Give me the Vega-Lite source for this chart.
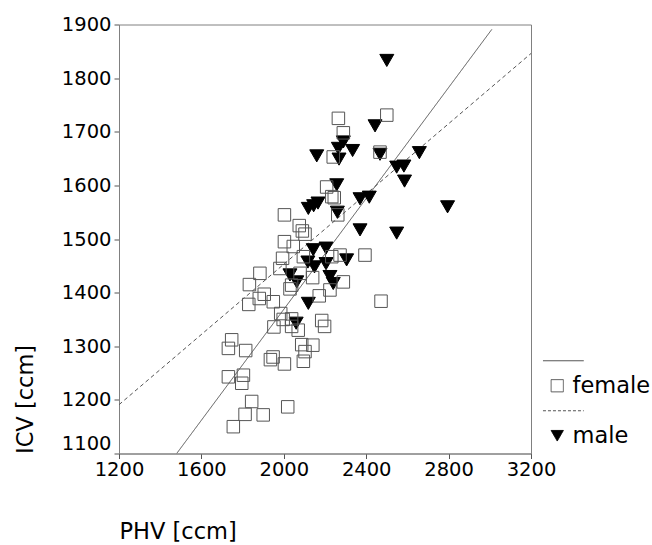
{
  "$schema": "https://vega.github.io/schema/vega-lite/v6.json",
  "width": 412,
  "height": 429,
  "autosize": {"type": "none"},
  "padding": {"left": 119, "top": 24.5, "right": 121, "bottom": 91.5},
  "background": "white",
  "config": {
    "font": "DejaVu Sans",
    "view": {"stroke": "#808080", "strokeWidth": 1},
    "axis": {
      "domainColor": "#808080",
      "tickColor": "#555555",
      "tickSize": 5,
      "labelFontSize": 19.5,
      "labelColor": "black",
      "labelFlush": false,
      "titleFontSize": 22.5,
      "titleFontWeight": "normal",
      "titleColor": "black",
      "grid": false,
      "format": "d"
    },
    "legend": {
      "title": null,
      "orient": "none",
      "legendX": 427,
      "legendY": 325,
      "padding": 0,
      "labelFontSize": 22.5,
      "labelColor": "black",
      "labelOffset": 4,
      "rowPadding": 2,
      "symbolStrokeWidth": 1,
      "symbolOpacity": 1,
      "symbolSize": 150
    }
  },
  "datasets": {
    "pts": [
      {"sex": "male", "phv": 2500, "icv": 1833},
      {"sex": "male", "phv": 2443, "icv": 1711},
      {"sex": "male", "phv": 2289, "icv": 1681},
      {"sex": "male", "phv": 2265, "icv": 1669},
      {"sex": "male", "phv": 2334, "icv": 1665},
      {"sex": "male", "phv": 2160, "icv": 1655},
      {"sex": "male", "phv": 2268, "icv": 1649},
      {"sex": "male", "phv": 2467, "icv": 1658},
      {"sex": "male", "phv": 2658, "icv": 1661},
      {"sex": "male", "phv": 2548, "icv": 1634},
      {"sex": "male", "phv": 2583, "icv": 1636},
      {"sex": "male", "phv": 2586, "icv": 1608},
      {"sex": "male", "phv": 2257, "icv": 1601},
      {"sex": "male", "phv": 2370, "icv": 1575},
      {"sex": "male", "phv": 2415, "icv": 1578},
      {"sex": "male", "phv": 2795, "icv": 1560},
      {"sex": "male", "phv": 2260, "icv": 1550},
      {"sex": "male", "phv": 2370, "icv": 1517},
      {"sex": "male", "phv": 2548, "icv": 1511},
      {"sex": "male", "phv": 2119, "icv": 1557},
      {"sex": "male", "phv": 2145, "icv": 1562},
      {"sex": "male", "phv": 2166, "icv": 1567},
      {"sex": "male", "phv": 2143, "icv": 1480},
      {"sex": "male", "phv": 2205, "icv": 1483},
      {"sex": "male", "phv": 2305, "icv": 1461},
      {"sex": "male", "phv": 2117, "icv": 1457},
      {"sex": "male", "phv": 2149, "icv": 1448},
      {"sex": "male", "phv": 2205, "icv": 1454},
      {"sex": "male", "phv": 2030, "icv": 1433},
      {"sex": "male", "phv": 2063, "icv": 1420},
      {"sex": "male", "phv": 2224, "icv": 1430},
      {"sex": "male", "phv": 2240, "icv": 1417},
      {"sex": "male", "phv": 2119, "icv": 1380},
      {"sex": "male", "phv": 2060, "icv": 1343},
      {"sex": "female", "phv": 2265, "icv": 1725},
      {"sex": "female", "phv": 2500, "icv": 1731},
      {"sex": "female", "phv": 2289, "icv": 1698},
      {"sex": "female", "phv": 2240, "icv": 1653},
      {"sex": "female", "phv": 2467, "icv": 1662},
      {"sex": "female", "phv": 2208, "icv": 1597},
      {"sex": "female", "phv": 2233, "icv": 1579},
      {"sex": "female", "phv": 2245, "icv": 1577},
      {"sex": "female", "phv": 2003, "icv": 1545},
      {"sex": "female", "phv": 2262, "icv": 1545},
      {"sex": "female", "phv": 2075, "icv": 1525},
      {"sex": "female", "phv": 2090, "icv": 1515},
      {"sex": "female", "phv": 2103, "icv": 1509},
      {"sex": "female", "phv": 2003, "icv": 1495},
      {"sex": "female", "phv": 2046, "icv": 1486},
      {"sex": "female", "phv": 1994, "icv": 1464},
      {"sex": "female", "phv": 2095, "icv": 1467},
      {"sex": "female", "phv": 2233, "icv": 1467},
      {"sex": "female", "phv": 2273, "icv": 1470},
      {"sex": "female", "phv": 2394, "icv": 1470},
      {"sex": "female", "phv": 1981, "icv": 1445},
      {"sex": "female", "phv": 1884, "icv": 1436},
      {"sex": "female", "phv": 2079, "icv": 1436},
      {"sex": "female", "phv": 2140, "icv": 1428},
      {"sex": "female", "phv": 1833, "icv": 1415},
      {"sex": "female", "phv": 2038, "icv": 1414},
      {"sex": "female", "phv": 2030, "icv": 1407},
      {"sex": "female", "phv": 2289, "icv": 1420},
      {"sex": "female", "phv": 2224, "icv": 1405},
      {"sex": "female", "phv": 2172, "icv": 1394},
      {"sex": "female", "phv": 1905, "icv": 1397},
      {"sex": "female", "phv": 1881, "icv": 1389},
      {"sex": "female", "phv": 1830, "icv": 1378},
      {"sex": "female", "phv": 1949, "icv": 1383},
      {"sex": "female", "phv": 2472, "icv": 1384},
      {"sex": "female", "phv": 1985, "icv": 1361},
      {"sex": "female", "phv": 1997, "icv": 1350},
      {"sex": "female", "phv": 2038, "icv": 1351},
      {"sex": "female", "phv": 1952, "icv": 1336},
      {"sex": "female", "phv": 2038, "icv": 1337},
      {"sex": "female", "phv": 2070, "icv": 1330},
      {"sex": "female", "phv": 2184, "icv": 1348},
      {"sex": "female", "phv": 2198, "icv": 1337},
      {"sex": "female", "phv": 2087, "icv": 1303},
      {"sex": "female", "phv": 2141, "icv": 1302},
      {"sex": "female", "phv": 2103, "icv": 1290},
      {"sex": "female", "phv": 2095, "icv": 1272},
      {"sex": "female", "phv": 1731, "icv": 1296},
      {"sex": "female", "phv": 1747, "icv": 1312},
      {"sex": "female", "phv": 1815, "icv": 1292},
      {"sex": "female", "phv": 1948, "icv": 1280},
      {"sex": "female", "phv": 1935, "icv": 1275},
      {"sex": "female", "phv": 2003, "icv": 1267},
      {"sex": "female", "phv": 1731, "icv": 1243},
      {"sex": "female", "phv": 1804, "icv": 1246},
      {"sex": "female", "phv": 1796, "icv": 1231},
      {"sex": "female", "phv": 1844, "icv": 1197},
      {"sex": "female", "phv": 1812, "icv": 1173},
      {"sex": "female", "phv": 1900, "icv": 1172},
      {"sex": "female", "phv": 1755, "icv": 1150},
      {"sex": "female", "phv": 2019, "icv": 1187}
    ],
    "fits": [
      {"fit": "solid", "phv": 1480, "icv": 1100},
      {"fit": "solid", "phv": 3010, "icv": 1891},
      {"fit": "dashed", "phv": 1200, "icv": 1191},
      {"fit": "dashed", "phv": 3200, "icv": 1846}
    ]
  },
  "layer": [
    {
      "data": {"name": "fits"},
      "mark": {"type": "line", "color": "#555555", "strokeWidth": 1, "clip": true},
      "encoding": {
        "x": {"field": "phv", "type": "quantitative"},
        "y": {"field": "icv", "type": "quantitative"},
        "detail": {"field": "fit"},
        "strokeDash": {
          "field": "fit",
          "type": "nominal",
          "scale": {"domain": ["solid", "dashed"], "range": [[1, 0], [4, 3]]},
          "legend": null
        }
      }
    },
    {
      "data": {"name": "pts"},
      "mark": {"type": "point", "filled": true, "opacity": 1, "strokeWidth": 1},
      "encoding": {
        "x": {
          "field": "phv",
          "type": "quantitative",
          "title": "PHV [ccm]",
          "scale": {"domain": [1200, 3200], "nice": false, "zero": false},
          "axis": {
            "values": [1200, 1600, 2000, 2400, 2800, 3200],
            "labelPadding": 2,
            "titlePadding": 41,
            "titleAnchor": "start"
          }
        },
        "y": {
          "field": "icv",
          "type": "quantitative",
          "title": "ICV [ccm]",
          "scale": {"domain": [1100, 1900], "nice": false, "zero": false},
          "axis": {
            "values": [1100, 1200, 1300, 1400, 1500, 1600, 1700, 1800, 1900],
            "labelPadding": 3,
            "titlePadding": 24,
            "titleAnchor": "start",
            "labelBaseline": {"condition": {"test": "datum.value == 1100", "value": "bottom"}, "value": "middle"}
          }
        },
        "color": {
          "field": "sex",
          "type": "nominal",
          "scale": {
            "domain": ["L1", "female", "L2", "male"],
            "range": ["transparent", "transparent", "transparent", "black"]
          },
          "legend": {
            "symbolDash": {"expr": "datum.value == 'L2' ? [3, 2] : [1, 0]"},
            "labelExpr": "datum.label == 'female' || datum.label == 'male' ? datum.label : ''"
          }
        },
        "stroke": {
          "field": "sex",
          "type": "nominal",
          "scale": {
            "domain": ["L1", "female", "L2", "male"],
            "range": ["#555555", "#555555", "#555555", "black"]
          },
          "legend": {
            "symbolDash": {"expr": "datum.value == 'L2' ? [3, 2] : [1, 0]"},
            "labelExpr": "datum.label == 'female' || datum.label == 'male' ? datum.label : ''"
          }
        },
        "shape": {
          "field": "sex",
          "type": "nominal",
          "scale": {
            "domain": ["L1", "female", "L2", "male"],
            "range": ["M-2.33,0H4.33", "square", "M-2.33,0H4.33", "triangle-down"]
          },
          "legend": {
            "symbolDash": {"expr": "datum.value == 'L2' ? [3, 2] : [1, 0]"},
            "labelExpr": "datum.label == 'female' || datum.label == 'male' ? datum.label : ''"
          }
        },
        "size": {"condition": {"test": "datum.sex == 'male'", "value": 196}, "value": 156}
      }
    }
  ]
}
